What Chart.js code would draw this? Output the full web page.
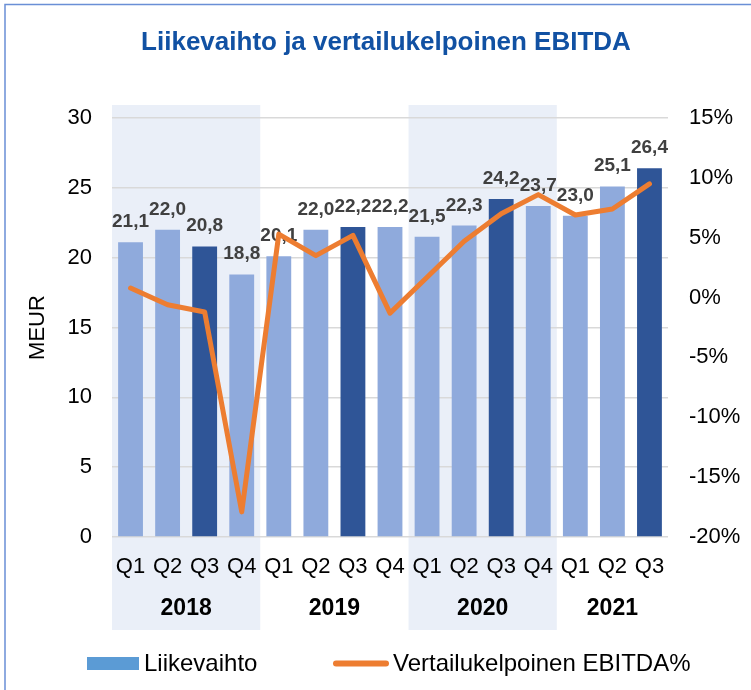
<!DOCTYPE html>
<html>
<head>
<meta charset="utf-8">
<script src="https://cdn.jsdelivr.net/npm/chart.js@4.4.1/dist/chart.umd.min.js"></script>
<style>
html,body{margin:0;padding:0;background:#fff;}
#wrap{width:751px;height:690px;position:relative;}
</style>
</head>
<body>
<div id="wrap"><canvas id="c" width="751" height="690"></canvas></div>
<script>
const quarters = ['Q1','Q2','Q3','Q4','Q1','Q2','Q3','Q4','Q1','Q2','Q3','Q4','Q1','Q2','Q3'];
const years = ['2018','2019','2020','2021'];
const yearOfCategory = [0,0,0,0,1,1,1,1,2,2,2,2,3,3,3];
const shadedYears = ['2018','2020'];
const liikevaihto = [21.1,22.0,20.8,18.8,20.1,22.0,22.2,22.2,21.5,22.3,24.2,23.7,23.0,25.1,26.4];
const ebitdaPct = [0.8,-0.6,-1.2,-17.9,5.3,3.5,5.2,-1.3,1.7,4.7,7.0,8.6,6.9,7.4,9.5];
const leftTicks = [0,5,10,15,20,25,30];
const rightTicks = [-20,-15,-10,-5,0,5,10,15];

const FONT = '"Liberation Sans", Arial, Helvetica, sans-serif';
const LIGHT = '#8FAADC', DARK = '#2F5597', ORANGE = '#ED7D31';
const barColors = quarters.map(q => q === 'Q3' ? DARK : LIGHT);

const decor = {
  id: 'decor',
  beforeDraw(chart) {
    const ctx = chart.ctx, x = chart.scales.x;
    const half = (x.getPixelForValue(1) - x.getPixelForValue(0)) / 2;
    ctx.save();
    ctx.fillStyle = '#fff';
    ctx.fillRect(0, 0, chart.width, chart.height);
    ctx.fillStyle = '#EAEFF8';
    years.forEach((y, yi) => {
      if (!shadedYears.includes(y)) return;
      const idx = yearOfCategory.map((v, i) => v === yi ? i : -1).filter(i => i >= 0);
      const x0 = x.getPixelForValue(idx[0]) - half;
      const x1 = x.getPixelForValue(idx[idx.length - 1]) + half;
      ctx.fillRect(x0, 105, x1 - x0, 525);
    });
    ctx.restore();
  },
  afterDraw(chart) {
    const ctx = chart.ctx, x = chart.scales.x, area = chart.chartArea;
    ctx.save();
    // border
    ctx.strokeStyle = '#6A8FD6';
    ctx.lineWidth = 1.5;
    ctx.strokeRect(5, 4.5, 760, 700);
    // title
    ctx.fillStyle = '#1151A3';
    ctx.font = 'bold 26px ' + FONT;
    ctx.textAlign = 'center';
    ctx.textBaseline = 'alphabetic';
    ctx.fillText('Liikevaihto ja vertailukelpoinen EBITDA', 386, 50);
    // year labels
    ctx.fillStyle = '#000';
    ctx.font = 'bold 23px ' + FONT;
    ctx.textBaseline = 'middle';
    years.forEach((y, yi) => {
      const idx = yearOfCategory.map((v, i) => v === yi ? i : -1).filter(i => i >= 0);
      const cx = (x.getPixelForValue(idx[0]) + x.getPixelForValue(idx[idx.length - 1])) / 2;
      ctx.fillText(y, cx, 609);
    });
    // axis title
    ctx.font = '22px ' + FONT;
    ctx.save();
    ctx.translate(38, (area.top + area.bottom) / 2);
    ctx.rotate(-Math.PI / 2);
    ctx.fillText('MEUR', 0, 0);
    ctx.restore();
    // legend
    ctx.fillStyle = '#5B9BD5';
    ctx.fillRect(87, 657, 52, 13);
    ctx.fillStyle = '#000';
    ctx.font = '24px ' + FONT;
    ctx.textAlign = 'left';
    ctx.textBaseline = 'middle';
    ctx.fillText('Liikevaihto', 144, 664);
    ctx.strokeStyle = ORANGE;
    ctx.lineWidth = 6;
    ctx.lineCap = 'round';
    ctx.beginPath();
    ctx.moveTo(336, 663.5);
    ctx.lineTo(386, 663.5);
    ctx.stroke();
    ctx.fillText('Vertailukelpoinen EBITDA%', 393, 664);
    ctx.restore();
  },
  afterDatasetDraw(chart, args) {
    if (args.index !== 0) return;
    const ctx = chart.ctx;
    const meta = chart.getDatasetMeta(0);
    ctx.save();
    ctx.fillStyle = '#404040';
    ctx.font = 'bold 19px ' + FONT;
    ctx.textAlign = 'center';
    ctx.textBaseline = 'alphabetic';
    meta.data.forEach((el, i) => {
      ctx.fillText(liikevaihto[i].toFixed(1).replace('.', ','), el.x, el.y - 15);
    });
    ctx.restore();
  }
};

new Chart(document.getElementById('c'), {
  data: {
    labels: quarters,
    datasets: [
      {
        type: 'bar', label: 'Liikevaihto', data: liikevaihto, yAxisID: 'y',
        backgroundColor: barColors, borderWidth: 0,
        barPercentage: 0.67, categoryPercentage: 1.0, order: 2
      },
      {
        type: 'line', label: 'Vertailukelpoinen EBITDA%', data: ebitdaPct, yAxisID: 'y1',
        borderColor: ORANGE, borderWidth: 5, pointRadius: 0, tension: 0,
        borderJoinStyle: 'round', borderCapStyle: 'round', fill: false, order: 1
      }
    ]
  },
  options: {
    responsive: false,
    animation: false,
    devicePixelRatio: 1,
    layout: { padding: { top: 118, bottom: 0, left: 0, right: 0 } },
    plugins: { legend: { display: false }, title: { display: false }, tooltip: { enabled: false } },
    scales: {
      x: {
        offset: true,
        grid: { display: false, drawTicks: false },
        border: { display: false },
        ticks: { color: '#000', font: { family: FONT, size: 22 }, padding: 17, maxRotation: 0, autoSkip: false },
        afterFit(s) { s.height = 153; }
      },
      y: {
        position: 'left', min: 0, max: 30,
        afterBuildTicks(s) { s.ticks = leftTicks.map(v => ({ value: v })); },
        grid: { color: '#D9D9D9', lineWidth: 1.5, drawTicks: false },
        border: { display: false },
        ticks: { color: '#000', font: { family: FONT, size: 22 }, padding: 20 },
        afterFit(s) { s.width = 112; }
      },
      y1: {
        position: 'right', min: -20, max: 15,
        afterBuildTicks(s) { s.ticks = rightTicks.map(v => ({ value: v })); },
        grid: { display: false, drawTicks: false },
        border: { display: false },
        ticks: { color: '#000', font: { family: FONT, size: 22 }, padding: 21, callback: v => v + '%' },
        afterFit(s) { s.width = 83; }
      }
    }
  },
  plugins: [decor]
});
</script>
</body>
</html>
